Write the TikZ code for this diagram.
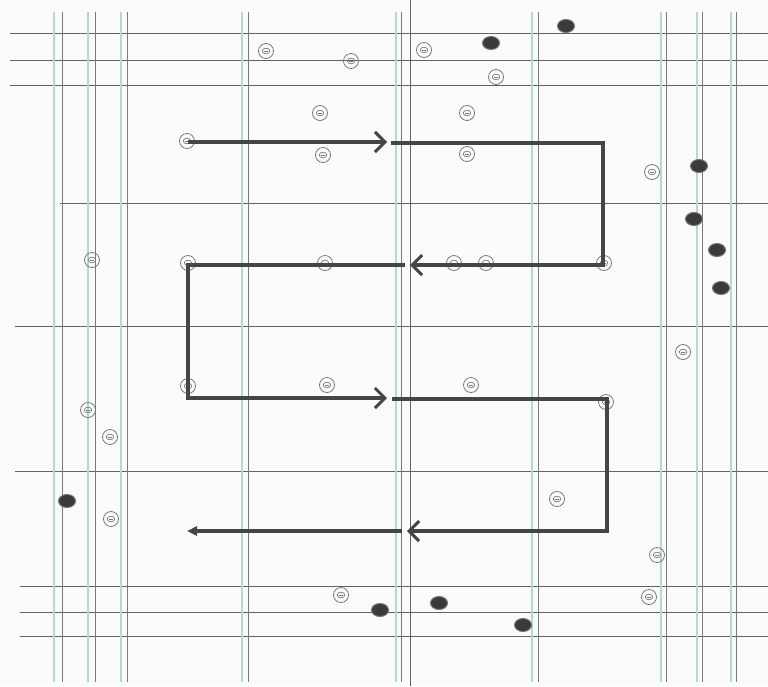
\documentclass[tikz,border=0pt]{standalone}
\usetikzlibrary{arrows.meta,shapes.geometric}
\definecolor{gline}{HTML}{626262}
\definecolor{vline}{HTML}{7A7A7A}
\definecolor{cline}{HTML}{B4D8D8}
\definecolor{pathc}{HTML}{454545}
\definecolor{dotc}{HTML}{3A3A3A}
\definecolor{mkc}{HTML}{787878}
\tikzset{
  hline/.style={gline,line width=0.9pt},
  vdark/.style={vline,line width=0.9pt},
  vcyan/.style={cline,line width=2.4pt},
  mk/.style={circle,draw=mkc,line width=0.8pt,minimum size=15pt,inner sep=0pt,
    path picture={\draw[mkc,line width=0.7pt] (path picture bounding box.center) ellipse (3.8pt and 2.8pt);
      \draw[mkc,line width=0.6pt] ([xshift=-2pt]path picture bounding box.center) -- ([xshift=2pt]path picture bounding box.center);}},
  blob/.style={ellipse,fill=dotc,draw=dotc!70,line width=1pt,minimum width=17pt,minimum height=13pt,inner sep=0pt},
  route/.style={pathc,line width=3.4pt},
  midhead/.style={-{Straight Barb[length=10pt,width=20pt,line width=3pt]}},
  endhead/.style={-{Triangle[length=10pt,width=9pt]}}
}
\begin{document}
\begin{tikzpicture}[x=1pt,y=-1pt]
\useasboundingbox (0,0) rectangle (768,686);
\fill[white!97!gray] (0,0) rectangle (768,686);
% horizontal grid lines
\foreach \y/\xs in {33/10,60/10,85/10,203/60,326/15,471/15,586/20,612/20,636/20}
  \draw[hline] (\xs,\y) -- (768,\y);
% vertical grid line pairs
\foreach \xc/\xd in {54/62,88/95,121/127,242/248,396/401,532/538,661/666,697/702,731/736}{
  \draw[vcyan] (\xc,12) -- (\xc,682);
  \draw[vdark] (\xd,12) -- (\xd,682);
}
\draw[vdark,gline] (410,0) -- (410,686);
% circled marks
\node[mk] (m1) at (266,51) {};
\node[mk] (m2) at (351,61) {};
\node[mk] (m3) at (424,50) {};
\node[mk] (m4) at (496,77) {};
\node[mk] (m5) at (320,113) {};
\node[mk] (m6) at (467,113) {};
\node[mk] (m7) at (187,141) {};
\node[mk] (m8) at (323,155) {};
\node[mk] (m9) at (467,154) {};
\node[mk] (m10) at (652,172) {};
\node[mk] (m11) at (92,260) {};
\node[mk] (m12) at (188,263) {};
\node[mk] (m13) at (325,263) {};
\node[mk] (m14) at (454,263) {};
\node[mk] (m15) at (486,263) {};
\node[mk] (m16) at (604,263) {};
\node[mk] (m17) at (683,352) {};
\node[mk] (m18) at (188,386) {};
\node[mk] (m19) at (327,385) {};
\node[mk] (m20) at (471,385) {};
\node[mk] (m21) at (88,410) {};
\node[mk] (m22) at (110,437) {};
\node[mk] (m23) at (606,402) {};
\node[mk] (m24) at (557,499) {};
\node[mk] (m25) at (111,519) {};
\node[mk] (m26) at (657,555) {};
\node[mk] (m27) at (341,595) {};
\node[mk] (m28) at (649,597) {};
% dark dots
\node[blob] (d1) at (566,26) {};
\node[blob] (d2) at (491,43) {};
\node[blob] (d3) at (699,166) {};
\node[blob] (d4) at (694,219) {};
\node[blob] (d5) at (717,250) {};
\node[blob] (d6) at (721,288) {};
\node[blob] (d7) at (67,501) {};
\node[blob] (d8) at (380,610) {};
\node[blob] (d9) at (439,603) {};
\node[blob] (d10) at (523,625) {};
% route coordinates
\coordinate (s) at (188,142);
\coordinate (a1) at (387,142);
\coordinate (b1) at (391,143);
\coordinate (c1) at (603,143);
\coordinate (c2) at (603,265);
\coordinate (a2) at (410,265);
\coordinate (b2) at (405,265);
\coordinate (c3) at (188,265);
\coordinate (c4) at (188,398);
\coordinate (a3) at (387,398);
\coordinate (b3) at (392,399);
\coordinate (c5) at (607,399);
\coordinate (c6) at (607,531);
\coordinate (a4) at (407,531);
\coordinate (b4) at (402,531);
\coordinate (e) at (187,531);
% route
\draw[route,midhead] (s) -- (a1);
\draw[route,line join=miter] (b1) -- (c1) -- (c2) -- (a2) [midhead];
\draw[route,line join=miter] (b2) -- (c3) -- (c4) -- (a3) [midhead];
\draw[route,line join=miter] (b3) -- (c5) -- (c6) -- (a4) [midhead];
\draw[route,endhead] (b4) -- (e);
\end{tikzpicture}
\end{document}
